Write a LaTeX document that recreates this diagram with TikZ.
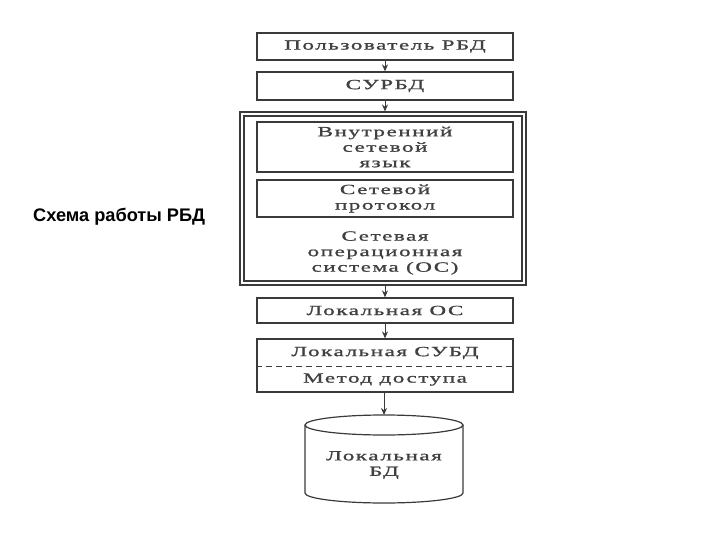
\documentclass[tikz,border=0pt]{standalone}
\usepackage{fontspec}
\setmainfont{Liberation Serif}
\newfontfamily\scanfont[FakeStretch=1.65,LetterSpace=11,FakeBold=1.2]{Liberation Serif}
\newfontfamily\titlefont{Liberation Sans}
\usetikzlibrary{arrows.meta}
\definecolor{linec}{HTML}{3A3A3A}
\definecolor{textc}{HTML}{404040}
\tikzset{
  blk/.style={draw=linec, line width=1.2pt, minimum width=256pt, inner sep=0pt, align=center,
    font=\scanfont\fontsize{14}{15.5}\selectfont, text=textc},
  txt/.style={inner sep=0pt, align=center, font=\scanfont\fontsize{14}{15.5}\selectfont, text=textc},
  frame/.style={draw=linec, line width=1.1pt, inner sep=0pt},
  arr/.style={draw=linec, line width=1pt, -{Stealth[length=7pt,width=6pt]}},
}
\begin{document}
\begin{tikzpicture}[x=1pt,y=-1pt]
\useasboundingbox (0,0) rectangle (720,540);
\node[font=\titlefont\bfseries\fontsize{18.2}{20}\selectfont, inner sep=0pt, anchor=west] (title) at (33,217) {Схема работы РБД};

\node[blk, minimum height=27pt] (user) at (385,46.5) {Пользователь РБД};
\node[blk, minimum height=28pt] (surbd) at (385,86) {СУРБД};
\node[frame, minimum width=286pt, minimum height=173pt] (outer) at (383,198.5) {};
\node[frame, minimum width=278pt, minimum height=165pt] (outerin) at (383,198.5) {};
\node[blk, minimum height=50pt] (lang) at (385,147) {Внутренний\\сетевой\\язык};
\node[blk, minimum height=37pt] (proto) at (385,198.5) {Сетевой\\протокол};
\node[txt] (netos) at (385,253) {Сетевая\\операционная\\система (ОС)};
\node[blk, minimum height=25pt] (locos) at (385,310.5) {Локальная ОС};
\node[blk, minimum height=53pt] (dbms) at (385,365.5) {};
\draw[draw=linec, line width=1pt, dash pattern=on 6pt off 4pt] (dbms.west |- 0,366) coordinate (dl) -- (dbms.east |- 0,366) coordinate (dr);
\node[txt] (dbmslbl) at (385,353) {Локальная СУБД};
\node[txt] (access) at (385,379.5) {Метод доступа};

% cylinder
\coordinate (dbtop) at (384,415);
\draw[draw=linec, line width=1.2pt] (384,425) ellipse[x radius=79pt, y radius=10pt];
\draw[draw=linec, line width=1.2pt]
  (305,425) -- (305,493) arc[start angle=180, end angle=360, x radius=79pt, y radius=10pt] -- (463,425);
\node[txt] (db) at (384,465) {Локальная\\БД};

\draw[arr] (user) -- (surbd);
\draw[arr] (surbd) -- (outer.north -| surbd);
\draw[arr] (outer.south -| locos) -- (locos);
\draw[arr] (locos) -- (dbms);
\draw[arr] (dbms.south -| dbtop) -- (dbtop);
\end{tikzpicture}
\end{document}
